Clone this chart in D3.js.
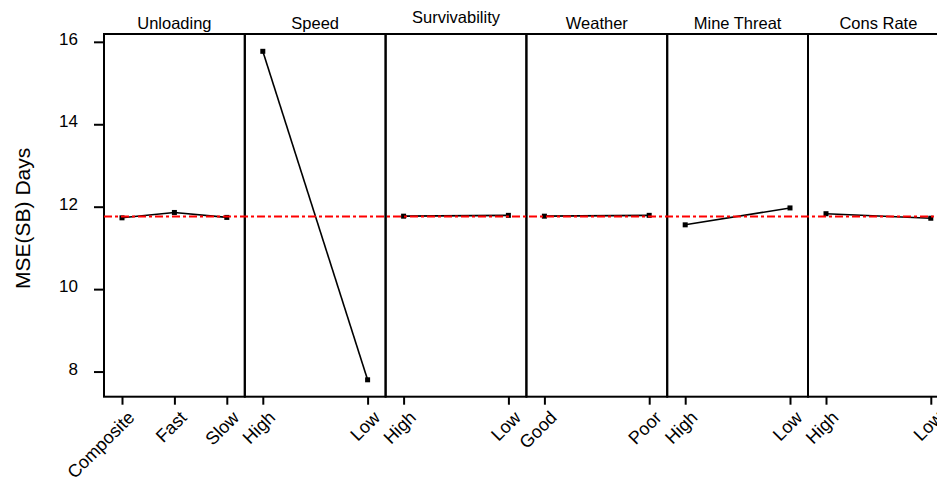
<!DOCTYPE html>
<html>
<head>
<meta charset="utf-8">
<script src="https://cdn.jsdelivr.net/npm/d3@7"></script>
<style>
  body { margin: 0; background: #fff; }
  svg { font-family: 'Liberation Sans', Arial, sans-serif; }
</style>
</head>
<body>
<div id="chart"></div>
<script>
// factors and their levels
const factors = ['Unloading', 'Speed', 'Survivability', 'Weather', 'Mine Threat', 'Cons Rate'];
const levels = [
  ['Composite', 'Fast', 'Slow'],
  ['High', 'Low'],
  ['High', 'Low'],
  ['Good', 'Poor'],
  ['High', 'Low'],
  ['High', 'Low']
];
// mean MSE(SB) days for each level
const means = [
  [11.73, 11.86, 11.74],
  [15.77, 7.80],
  [11.77, 11.79],
  [11.77, 11.79],
  [11.56, 11.97],
  [11.83, 11.72]
];
const grandMean = 11.76;
const yTicks = [8, 10, 12, 14, 16];

const width = 937;
const height = 482;
const plotLeft = 104;
const plotTop = 34;
const plotBottom = 396.7;
const panelWidth = 140.8;
const inset = 18;

const svg = d3.select('#chart').append('svg')
  .attr('width', width)
  .attr('height', height);

const y = d3.scaleLinear()
  .domain([7.39, 16.19])
  .range([plotBottom, plotTop]);

/* y axis */
const yAxis = d3.axisLeft(y).tickValues(yTicks).tickSize(10).tickPadding(16);
const gy = svg.append('g')
  .attr('transform', `translate(${plotLeft}, 0)`)
  .call(yAxis);
gy.select('.domain').remove();
gy.selectAll('.tick line').attr('stroke', '#000').attr('stroke-width', 2);
gy.selectAll('.tick text')
  .attr('dy', '0.15em')
  .style('font-size', '17px')
  .attr('fill', '#000');

svg.append('text')
  .attr('transform', `translate(30, ${(plotTop + plotBottom) / 2 + 3}) rotate(-90)`)
  .attr('text-anchor', 'middle')
  .style('font-size', '21px')
  .attr('fill', '#000')
  .text('MSE(SB) Days');

/* panels */
factors.forEach(function(name, i) {
  const x0 = plotLeft + i * panelWidth;
  const g = svg.append('g').attr('transform', `translate(${x0}, 0)`);

  const x = d3.scalePoint()
    .domain(levels[i])
    .range([inset, panelWidth - inset]);

  // x axis
  const gx = g.append('g')
    .attr('transform', `translate(0, ${plotBottom})`)
    .call(d3.axisBottom(x).tickSize(8).tickSizeOuter(0));
  gx.select('.domain').remove();
  gx.selectAll('.tick line').attr('stroke', '#000').attr('stroke-width', 2);
  gx.selectAll('.tick text')
    .attr('text-anchor', 'end')
    .attr('dy', null)
    .attr('y', 0)
    .attr('transform', 'translate(13, 22) rotate(-45)')
    .style('font-size', '18px')
    .attr('fill', '#000');

  // panel frame
  g.append('rect')
    .attr('x', 0)
    .attr('y', plotTop)
    .attr('width', panelWidth)
    .attr('height', plotBottom - plotTop)
    .attr('fill', 'none')
    .attr('stroke', '#000')
    .attr('stroke-width', 2);

  // title
  g.append('text')
    .attr('x', panelWidth / 2)
    .attr('y', name === 'Survivability' ? 23 : 29)
    .attr('text-anchor', 'middle')
    .style('font-size', '16.5px')
    .attr('fill', '#000')
    .text(name);

  const pts = levels[i].map((l, j) => ({ level: l, value: means[i][j] }));

  const line = d3.line()
    .x(d => x(d.level))
    .y(d => y(d.value));

  g.append('path')
    .attr('d', line(pts))
    .attr('fill', 'none')
    .attr('stroke', '#000')
    .attr('stroke-width', 1.6);

  g.selectAll('.pt')
    .data(pts).enter()
    .append('rect')
    .attr('class', 'pt')
    .attr('x', d => x(d.level) - 2.5)
    .attr('y', d => y(d.value) - 2.5)
    .attr('width', 5)
    .attr('height', 5)
    .attr('fill', '#000');
});

/* grand mean reference line */
svg.append('line')
  .attr('x1', plotLeft)
  .attr('x2', plotLeft + factors.length * panelWidth)
  .attr('y1', y(grandMean))
  .attr('y2', y(grandMean))
  .attr('stroke', '#ff0000')
  .attr('stroke-width', 2)
  .attr('stroke-dasharray', '8,3,3,3');
</script>
</body>
</html>
